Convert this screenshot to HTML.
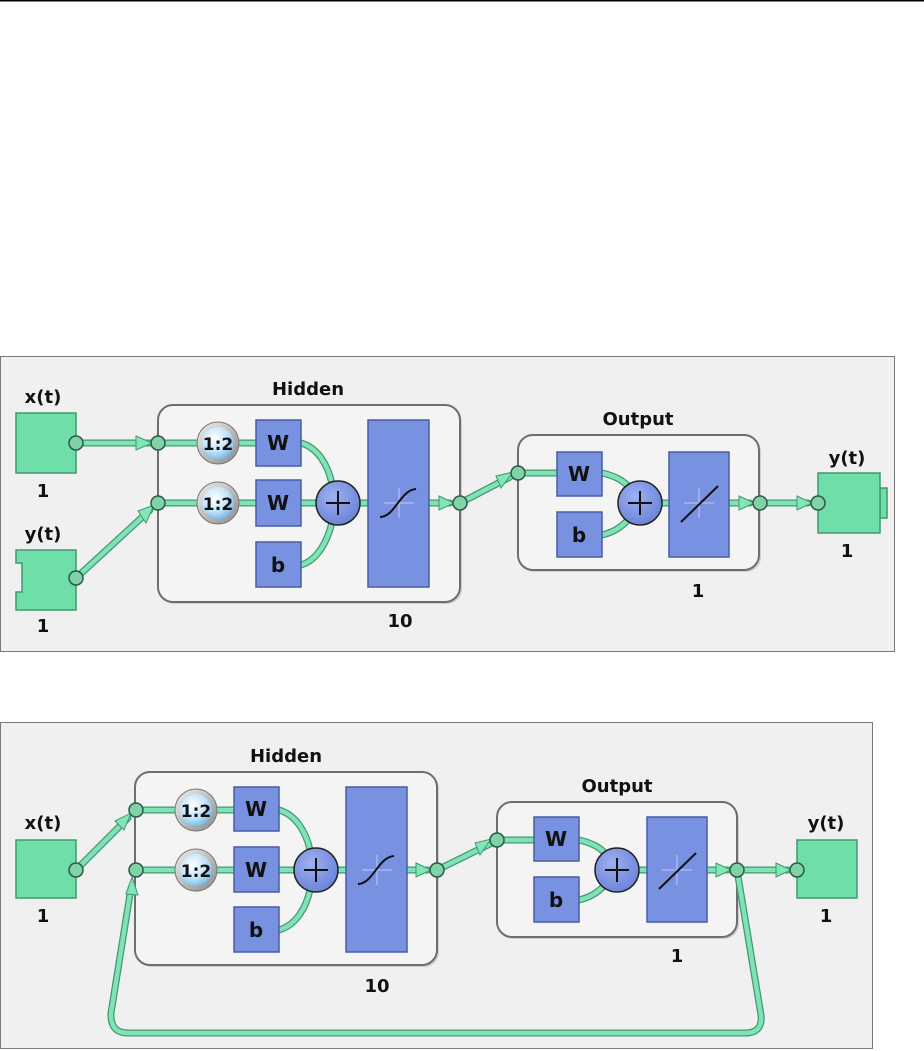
<!DOCTYPE html>
<html><head><meta charset="utf-8"><style>
html,body{margin:0;padding:0;background:#fff;width:924px;height:1051px;overflow:hidden}
svg{display:block}
text{font-family:"DejaVu Sans","Liberation Sans",sans-serif;font-weight:bold;fill:#111}
.wo{fill:none;stroke:#3f9a70;stroke-width:7;stroke-linecap:round}
.wi{fill:none;stroke:#80e2b5;stroke-width:4.5;stroke-linecap:round}
.nd{fill:#7fd3a7;stroke:#2c5a45;stroke-width:1.5}
.ar{fill:#82e6b8;stroke:#3f9a70;stroke-width:1}
.bb{fill:#7891e0;stroke:#4a5ca6;stroke-width:1.5}
.gb{fill:#70dea9;stroke:#3e9a6f;stroke-width:1.5}
.ib{fill:#f4f4f4;stroke:#6e6e6e;stroke-width:2}
.L{font-size:18px}
.B{font-size:20px}
.D{font-size:17px}
</style></head><body>
<svg width="924" height="1051" viewBox="0 0 924 1051">
<defs>
<radialGradient id="clk" cx="0.4" cy="0.35" r="0.7">
<stop offset="0" stop-color="#ffffff"/><stop offset="0.6" stop-color="#bfe3fa"/><stop offset="1" stop-color="#6fb6e8"/>
</radialGradient>
<linearGradient id="rim" x1="0" y1="0" x2="1" y2="1">
<stop offset="0" stop-color="#f0f0f0"/><stop offset="1" stop-color="#8a8a8a"/>
</linearGradient>
<radialGradient id="sum" cx="0.4" cy="0.35" r="0.7">
<stop offset="0" stop-color="#9db0f0"/><stop offset="1" stop-color="#6a82d8"/>
</radialGradient>
</defs>
<line x1="0" y1="0.5" x2="924" y2="0.5" stroke="#000" stroke-width="2"/>

<!-- ============ PANEL 1 ============ -->
<rect x="0.5" y="356.5" width="894" height="295" fill="#f0f0f0" stroke="#7a7a7a"/>
<rect x="160" y="407" width="302" height="197" rx="15" fill="#cfcfcf"/>
<rect x="158" y="405" width="302" height="197" rx="15" class="ib"/>
<rect x="520" y="437" width="241" height="135" rx="15" fill="#cfcfcf"/>
<rect x="518" y="435" width="241" height="135" rx="15" class="ib"/>
<text x="308" y="395" class="L" text-anchor="middle">Hidden</text>
<text x="638" y="425" class="L" text-anchor="middle">Output</text>
<text x="43" y="403" class="L" text-anchor="middle">x(t)</text>
<text x="43" y="497" class="L" text-anchor="middle">1</text>
<text x="43" y="540" class="L" text-anchor="middle">y(t)</text>
<text x="43" y="632" class="L" text-anchor="middle">1</text>
<text x="400" y="627" class="L" text-anchor="middle">10</text>
<text x="698" y="597" class="L" text-anchor="middle">1</text>
<text x="847" y="464" class="L" text-anchor="middle">y(t)</text>
<text x="847" y="557" class="L" text-anchor="middle">1</text>
<rect x="16" y="413" width="60" height="60" class="gb"/>
<path d="M16 550 H76 V610 H16 V592 H22 V563 H16 Z" class="gb"/>
<rect x="880" y="488" width="7" height="30" class="gb"/>
<rect x="818" y="473" width="62" height="60" class="gb"/>
<g>
<path class="wo" d="M76 443 H150 M76 578 L150 510 M158 443 H256 M158 503 H256 M301 443 C318 448 328 465 332 484 M301 503 H318 M301 565 C318 560 328 540 332 522 M358 503 H368 M429 503 H450 M460 503 L510 477 M518 473 H557 M602 473 C615 476 622 480 628 486 M602 535 C615 532 622 526 628 520 M660 503 H669 M729 503 H750 M760 503 H808"/>
<path class="wi" d="M76 443 H150 M76 578 L150 510 M158 443 H256 M158 503 H256 M301 443 C318 448 328 465 332 484 M301 503 H318 M301 565 C318 560 328 540 332 522 M358 503 H368 M429 503 H450 M460 503 L510 477 M518 473 H557 M602 473 C615 476 622 480 628 486 M602 535 C615 532 622 526 628 520 M660 503 H669 M729 503 H750 M760 503 H808"/>
</g>
<polygon class="ar" points="136,436 152,443 136,450"/>
<polygon class="ar" points="138,511 154,505 146,523"/>
<polygon class="ar" points="439,496 454,503 439,510"/>
<polygon class="ar" points="496,476 513,472 501,488"/>
<polygon class="ar" points="739,496 754,503 739,510"/>
<polygon class="ar" points="797,496 812,503 797,510"/>
<circle cx="76" cy="443" r="7" class="nd"/>
<circle cx="76" cy="578" r="7" class="nd"/>
<circle cx="158" cy="443" r="7" class="nd"/>
<circle cx="158" cy="503" r="7" class="nd"/>
<circle cx="460" cy="503" r="7" class="nd"/>
<circle cx="518" cy="473" r="7" class="nd"/>
<circle cx="760" cy="503" r="7" class="nd"/>
<circle cx="818" cy="503" r="7" class="nd"/>
<circle cx="218" cy="443" r="21" fill="url(#rim)" stroke="#777"/><circle cx="218" cy="443" r="16" fill="url(#clk)"/>
<text x="218" y="450" text-anchor="middle" class="D">1:2</text>
<circle cx="218" cy="503" r="21" fill="url(#rim)" stroke="#777"/><circle cx="218" cy="503" r="16" fill="url(#clk)"/>
<text x="218" y="510" text-anchor="middle" class="D">1:2</text>
<rect x="256" y="420" width="45" height="46" class="bb"/><text x="278" y="450" class="B" text-anchor="middle">W</text>
<rect x="256" y="480" width="45" height="46" class="bb"/><text x="278" y="510" class="B" text-anchor="middle">W</text>
<rect x="256" y="542" width="45" height="45" class="bb"/><text x="278" y="572" class="B" text-anchor="middle">b</text>
<circle cx="338" cy="503" r="22" fill="url(#sum)" stroke="#222" stroke-width="1.5"/>
<path d="M326 503 H350 M338 491 V515" stroke="#111" stroke-width="2"/>
<rect x="368" y="420" width="61" height="167" class="bb"/>
<path d="M384 503 H414 M399 488 V518" stroke="#a8b8f0" stroke-width="1.5"/>
<path d="M380 517 C395 517 400 490 416 489" stroke="#111" stroke-width="2" fill="none"/>
<rect x="557" y="452" width="45" height="44" class="bb"/><text x="579" y="481" class="B" text-anchor="middle">W</text>
<rect x="557" y="512" width="45" height="45" class="bb"/><text x="579" y="542" class="B" text-anchor="middle">b</text>
<circle cx="640" cy="503" r="22" fill="url(#sum)" stroke="#222" stroke-width="1.5"/>
<path d="M628 503 H652 M640 491 V515" stroke="#111" stroke-width="2"/>
<rect x="669" y="452" width="60" height="105" class="bb"/>
<path d="M684 503 H714 M699 488 V518" stroke="#a8b8f0" stroke-width="1.5"/>
<path d="M681 522 L718 486" stroke="#111" stroke-width="2"/>

<!-- ============ PANEL 2 ============ -->
<rect x="0.5" y="722.5" width="872" height="326" fill="#f0f0f0" stroke="#7a7a7a"/>
<rect x="137" y="774" width="302" height="193" rx="15" fill="#cfcfcf"/>
<rect x="135" y="772" width="302" height="193" rx="15" class="ib"/>
<rect x="499" y="804" width="240" height="135" rx="15" fill="#cfcfcf"/>
<rect x="497" y="802" width="240" height="135" rx="15" class="ib"/>
<text x="286" y="762" class="L" text-anchor="middle">Hidden</text>
<text x="617" y="792" class="L" text-anchor="middle">Output</text>
<text x="43" y="829" class="L" text-anchor="middle">x(t)</text>
<text x="43" y="922" class="L" text-anchor="middle">1</text>
<text x="377" y="992" class="L" text-anchor="middle">10</text>
<text x="677" y="962" class="L" text-anchor="middle">1</text>
<text x="826" y="829" class="L" text-anchor="middle">y(t)</text>
<text x="826" y="922" class="L" text-anchor="middle">1</text>
<rect x="16" y="840" width="60" height="58" class="gb"/>
<rect x="797" y="840" width="60" height="58" class="gb"/>
<g>
<path class="wo" d="M76 870 L128 818 M136 810 H234 M136 870 H234 M279 810 C296 815 306 832 310 850 M279 870 H294 M279 930 C296 925 306 908 310 890 M338 870 H346 M407 870 H428 M437 870 L490 844 M497 840 H534 M579 840 C592 843 599 847 605 853 M579 900 C592 897 599 891 605 885 M639 870 H647 M707 870 H728 M737 870 H788 M737 870 L761 1015 Q763 1033 745 1033 H128 Q110 1033 111 1013 L131 888"/>
<path class="wi" d="M76 870 L128 818 M136 810 H234 M136 870 H234 M279 810 C296 815 306 832 310 850 M279 870 H294 M279 930 C296 925 306 908 310 890 M338 870 H346 M407 870 H428 M437 870 L490 844 M497 840 H534 M579 840 C592 843 599 847 605 853 M579 900 C592 897 599 891 605 885 M639 870 H647 M707 870 H728 M737 870 H788 M737 870 L761 1015 Q763 1033 745 1033 H128 Q110 1033 111 1013 L131 888"/>
</g>
<polygon class="ar" points="115,821 131,813 124,830"/>
<polygon class="ar" points="126,894 132,877 138,895"/>
<polygon class="ar" points="416,863 431,870 416,877"/>
<polygon class="ar" points="475,843 491,839 480,855"/>
<polygon class="ar" points="716,863 731,870 716,877"/>
<polygon class="ar" points="776,863 791,870 776,877"/>
<circle cx="76" cy="870" r="7" class="nd"/>
<circle cx="136" cy="810" r="7" class="nd"/>
<circle cx="136" cy="870" r="7" class="nd"/>
<circle cx="437" cy="870" r="7" class="nd"/>
<circle cx="497" cy="840" r="7" class="nd"/>
<circle cx="737" cy="870" r="7" class="nd"/>
<circle cx="797" cy="870" r="7" class="nd"/>
<circle cx="196" cy="810" r="21" fill="url(#rim)" stroke="#777"/><circle cx="196" cy="810" r="16" fill="url(#clk)"/>
<text x="196" y="817" text-anchor="middle" class="D">1:2</text>
<circle cx="196" cy="870" r="21" fill="url(#rim)" stroke="#777"/><circle cx="196" cy="870" r="16" fill="url(#clk)"/>
<text x="196" y="877" text-anchor="middle" class="D">1:2</text>
<rect x="234" y="787" width="45" height="44" class="bb"/><text x="256" y="816" class="B" text-anchor="middle">W</text>
<rect x="234" y="847" width="45" height="45" class="bb"/><text x="256" y="877" class="B" text-anchor="middle">W</text>
<rect x="234" y="907" width="45" height="45" class="bb"/><text x="256" y="937" class="B" text-anchor="middle">b</text>
<circle cx="316" cy="870" r="22" fill="url(#sum)" stroke="#222" stroke-width="1.5"/>
<path d="M304 870 H328 M316 858 V882" stroke="#111" stroke-width="2"/>
<rect x="346" y="787" width="61" height="165" class="bb"/>
<path d="M362 870 H392 M377 855 V885" stroke="#a8b8f0" stroke-width="1.5"/>
<path d="M358 884 C373 884 378 857 394 856" stroke="#111" stroke-width="2" fill="none"/>
<rect x="534" y="817" width="45" height="44" class="bb"/><text x="556" y="846" class="B" text-anchor="middle">W</text>
<rect x="534" y="877" width="45" height="45" class="bb"/><text x="556" y="907" class="B" text-anchor="middle">b</text>
<circle cx="617" cy="870" r="22" fill="url(#sum)" stroke="#222" stroke-width="1.5"/>
<path d="M605 870 H629 M617 858 V882" stroke="#111" stroke-width="2"/>
<rect x="647" y="817" width="60" height="105" class="bb"/>
<path d="M662 870 H692 M677 855 V885" stroke="#a8b8f0" stroke-width="1.5"/>
<path d="M659 889 L696 853" stroke="#111" stroke-width="2"/>
</svg>
</body></html>
